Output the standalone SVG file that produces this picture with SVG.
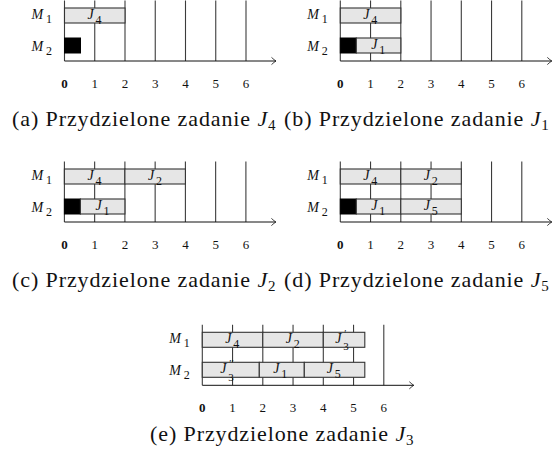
<svg xmlns="http://www.w3.org/2000/svg" width="560" height="458" viewBox="0 0 560 458" font-family="'Liberation Serif', 'DejaVu Serif', serif">
<style>
.grid{stroke:#3c3c3c;stroke-width:1.1;fill:none}
.axis{stroke:#111;stroke-width:1;fill:none}
.bar{fill:#e6e6e6;stroke:#333;stroke-width:1.1}
.blk{fill:#000;stroke:#000;stroke-width:1}
text{font-family:'Liberation Serif','DejaVu Serif',serif;fill:#111}
.tick{font-size:13px;text-anchor:middle}
.zero{font-weight:bold}
.m{font-size:14px;font-style:italic}
.ms{font-size:12px}
.j{font-size:14px;font-style:italic}
.js{font-size:12px}
.pr{font-size:10px;font-style:normal}
.p3{font-size:11px;font-style:normal}
.cap{font-size:22px;letter-spacing:0.9px}
.it{font-style:italic}
.sub{font-size:15px}
</style>
<defs>
<marker id="arr" viewBox="-5 -5 6 10" refX="0" refY="0" markerWidth="6" markerHeight="10" markerUnits="userSpaceOnUse" orient="auto">
<path d="M-4.5,-3.6 Q-1.6,-0.9 0,0 Q-1.6,0.9 -4.5,3.6" fill="none" stroke="#111" stroke-width="0.8"/>
</marker>
<g id="gridlines">
<path class="grid" d="M0,-60.5V0M30.25,-60.5V0M60.5,-60.5V0M90.75,-60.5V0M121,-60.5V0M151.25,-60.5V0M181.5,-60.5V0"/>
<line class="axis" x1="0" y1="0" x2="211.5" y2="0" marker-end="url(#arr)"/>
</g>
<g id="frame">
<text class="m" x="-33" y="-42">M</text><text class="ms" x="-18.5" y="-38">1</text>
<text class="m" x="-33" y="-10">M</text><text class="ms" x="-18.5" y="-6">2</text>
<text class="tick zero" x="0" y="26.5">0</text>
<text class="tick" x="30.25" y="26.5">1</text>
<text class="tick" x="60.5" y="26.5">2</text>
<text class="tick" x="90.75" y="26.5">3</text>
<text class="tick" x="121" y="26.5">4</text>
<text class="tick" x="151.25" y="26.5">5</text>
<text class="tick" x="181.5" y="26.5">6</text>
</g>
</defs>

<g id="panel-a" transform="translate(64.5,61)">
<use href="#gridlines"/>
<use href="#frame"/>
<rect class="bar" x="0" y="-53" width="60.5" height="15"/>
<text class="j" x="23" y="-42">J</text><text class="js" x="31" y="-37">4</text>
<rect class="blk" x="0" y="-23" width="16" height="15"/>
</g>

<g id="panel-b" transform="translate(340.3,61)">
<use href="#gridlines"/>
<use href="#frame"/>
<rect class="bar" x="0" y="-53" width="60.5" height="15"/>
<text class="j" x="23" y="-42">J</text><text class="js" x="31" y="-37">4</text>
<rect class="blk" x="0" y="-23" width="16" height="15"/>
<rect class="bar" x="16" y="-23" width="44.5" height="15"/>
<text class="j" x="31" y="-12">J</text><text class="js" x="39" y="-7">1</text>
</g>

<g id="panel-c" transform="translate(64.4,222)">
<use href="#gridlines"/>
<use href="#frame"/>
<rect class="bar" x="0" y="-53" width="60.5" height="15"/>
<text class="j" x="23" y="-42">J</text><text class="js" x="31" y="-37">4</text>
<rect class="bar" x="60.5" y="-53" width="60.5" height="15"/>
<text class="j" x="83.5" y="-42">J</text><text class="js" x="91.5" y="-37">2</text>
<rect class="blk" x="0" y="-23" width="16" height="15"/>
<rect class="bar" x="16" y="-23" width="44.5" height="15"/>
<text class="j" x="31" y="-12">J</text><text class="js" x="39" y="-7">1</text>
</g>

<g id="panel-d" transform="translate(340.3,222)">
<use href="#gridlines"/>
<use href="#frame"/>
<rect class="bar" x="0" y="-53" width="60.5" height="15"/>
<text class="j" x="23" y="-42">J</text><text class="js" x="31" y="-37">4</text>
<rect class="bar" x="60.5" y="-53" width="60.5" height="15"/>
<text class="j" x="83.5" y="-42">J</text><text class="js" x="91.5" y="-37">2</text>
<rect class="blk" x="0" y="-23" width="16" height="15"/>
<rect class="bar" x="16" y="-23" width="44.5" height="15"/>
<text class="j" x="31" y="-12">J</text><text class="js" x="39" y="-7">1</text>
<rect class="bar" x="60.5" y="-23" width="60.5" height="15"/>
<text class="j" x="83.5" y="-12">J</text><text class="js" x="91.5" y="-7">5</text>
</g>

<g id="panel-e" transform="translate(202.3,385.3)">
<use href="#gridlines"/>
<use href="#frame"/>
<rect class="bar" x="0" y="-53" width="60.5" height="15"/>
<text class="j" x="23" y="-42">J</text><text class="js" x="31" y="-37">4</text>
<rect class="bar" x="60.5" y="-53" width="60.5" height="15"/>
<text class="j" x="83.5" y="-42">J</text><text class="js" x="91.5" y="-37">2</text>
<rect class="bar" x="121" y="-53" width="41.5" height="15"/>
<text class="j" x="133" y="-42">J<tspan class="pr" x="142" y="-48">′</tspan><tspan class="p3" x="141" y="-35">3</tspan></text>
<rect class="bar" x="0" y="-23" width="57" height="15"/>
<text class="j" x="18" y="-12">J<tspan class="pr" x="27" y="-18">′′</tspan><tspan class="p3" x="26" y="-4">3</tspan></text>
<rect class="bar" x="57" y="-23" width="45" height="15"/>
<text class="j" x="71" y="-12">J</text><text class="js" x="79" y="-7">1</text>
<rect class="bar" x="102" y="-23" width="60.5" height="15"/>
<text class="j" x="124.5" y="-12">J</text><text class="js" x="132.5" y="-7">5</text>
</g>

<g id="captions">
<text class="cap" x="12" y="126">(a) Przydzielone zadanie <tspan class="it">J</tspan><tspan class="sub" dy="4">4</tspan></text>
<text class="cap" x="284" y="126">(b) Przydzielone zadanie <tspan class="it">J</tspan><tspan class="sub" dy="4">1</tspan></text>
<text class="cap" x="12" y="287">(c) Przydzielone zadanie <tspan class="it">J</tspan><tspan class="sub" dy="4">2</tspan></text>
<text class="cap" x="284" y="287">(d) Przydzielone zadanie <tspan class="it">J</tspan><tspan class="sub" dy="4">5</tspan></text>
<text class="cap" x="150" y="441">(e) Przydzielone zadanie <tspan class="it">J</tspan><tspan class="sub" dy="4">3</tspan></text>
</g>
</svg>
